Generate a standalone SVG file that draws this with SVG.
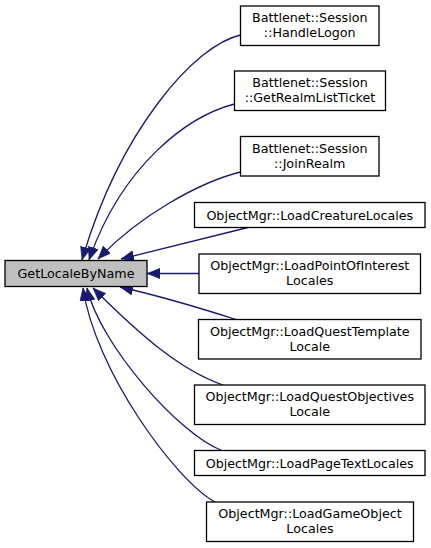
<svg xmlns="http://www.w3.org/2000/svg" width="431" height="548" viewBox="0 0 431 548">
<style>
.n rect{fill:#ffffff;stroke:#000000;stroke-width:1.3}
#main rect{fill:#bfbfbf}
text{font-family:"DejaVu Sans","Liberation Sans",sans-serif;font-size:12.7px;fill:#000000;text-anchor:middle}
.e path{fill:none;stroke:#191970;stroke-width:1.3;marker-end:url(#ah)}
</style>
<defs>
<marker id="ah" markerUnits="userSpaceOnUse" markerWidth="14" markerHeight="12" refX="13" refY="5.25" orient="auto">
<path d="M0,0 L13,5.25 L0,10.5 z" fill="#191970" stroke="#191970" stroke-width="0.5"/>
</marker>
</defs>
<rect width="431" height="548" fill="#ffffff"/>
<g class="e" id="edges">
<path d="M240.5,35 C195,45 120,130 82,260"/>
<path d="M234.5,104 C188,116 122,165 89,260"/>
<path d="M240.5,172 C200,182 140,215 98,259"/>
<path d="M248,227.5 L121,259"/>
<path d="M199,273.5 L147,273.5"/>
<path d="M236,319.5 C200,308 160,296 120,287"/>
<path d="M223,385 C180,370 140,335 93,288"/>
<path d="M221.7,450.5 C180,435 100,345 87,288"/>
<path d="M215,502 C175,480 95,370 83,288"/>
</g>
<g id="main" class="n"><rect x="5" y="260.5" width="142" height="26"/><text x="76" y="278">GetLocaleByName</text></g>
<g id="n1" class="n"><rect x="240.5" y="6" width="138.5" height="39.5"/><text x="309.75" y="22.3">Battlenet::Session</text><text x="309.75" y="37.3">::HandleLogon</text></g>
<g id="n2" class="n"><rect x="234.5" y="71" width="151" height="39.5"/><text x="310" y="87.3">Battlenet::Session</text><text x="310" y="102.3">::GetRealmListTicket</text></g>
<g id="n3" class="n"><rect x="240.5" y="136.5" width="138.5" height="39.5"/><text x="309.75" y="152.8">Battlenet::Session</text><text x="309.75" y="167.8">::JoinRealm</text></g>
<g id="n4" class="n"><rect x="194.5" y="202.5" width="230.5" height="25"/><text x="309.75" y="219.6">ObjectMgr::LoadCreatureLocales</text></g>
<g id="n5" class="n"><rect x="199" y="254" width="221.5" height="39.5"/><text x="309.75" y="270.3">ObjectMgr::LoadPointOfInterest</text><text x="309.75" y="285.3">Locales</text></g>
<g id="n6" class="n"><rect x="198.5" y="319.5" width="222.5" height="39.5"/><text x="309.75" y="335.8">ObjectMgr::LoadQuestTemplate</text><text x="309.75" y="350.8">Locale</text></g>
<g id="n7" class="n"><rect x="194.5" y="385" width="230.5" height="39.5"/><text x="309.75" y="401.3">ObjectMgr::LoadQuestObjectives</text><text x="309.75" y="416.3">Locale</text></g>
<g id="n8" class="n"><rect x="194.5" y="450.5" width="230.5" height="25"/><text x="309.75" y="467.6">ObjectMgr::LoadPageTextLocales</text></g>
<g id="n9" class="n"><rect x="206.5" y="502" width="207" height="39.5"/><text x="310" y="518.3">ObjectMgr::LoadGameObject</text><text x="310" y="533.3">Locales</text></g>
</svg>
